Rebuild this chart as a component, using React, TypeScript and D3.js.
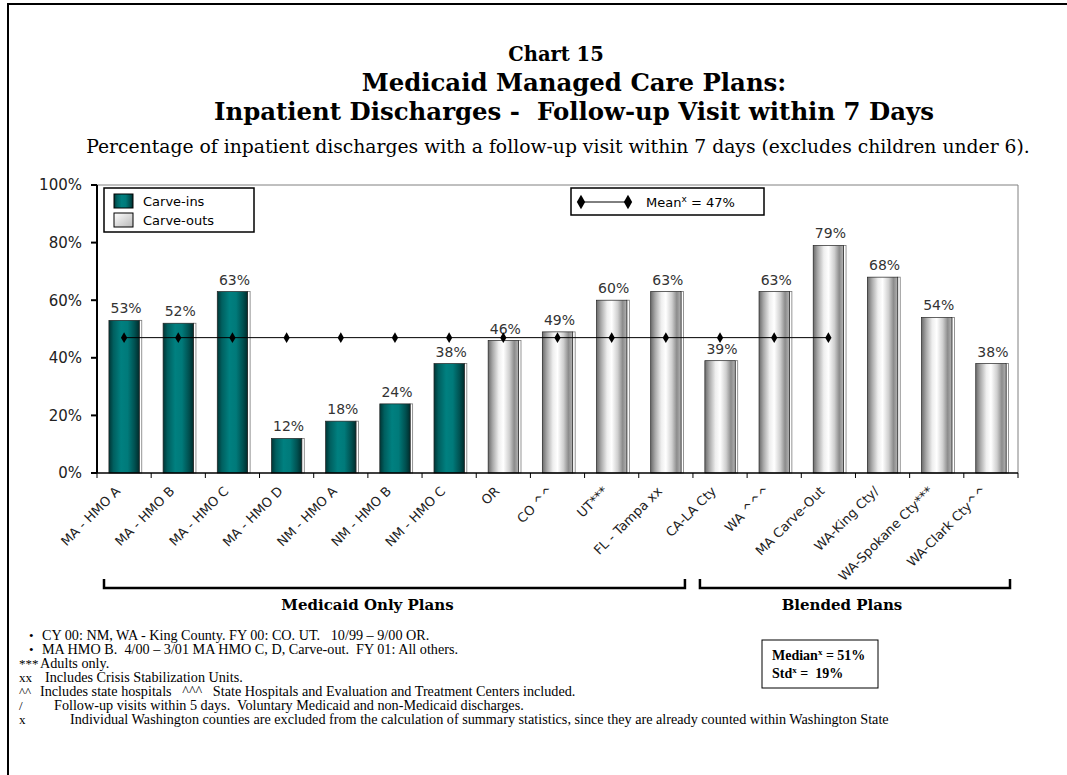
import React, { useEffect, useRef } from "react";
import * as d3 from "d3";

const categories = [
  "MA - HMO A",
  "MA - HMO B",
  "MA - HMO C",
  "MA - HMO D",
  "NM - HMO A",
  "NM - HMO B",
  "NM - HMO C",
  "OR",
  "CO ^^",
  "UT***",
  "FL - Tampa xx",
  "CA-LA Cty",
  "WA ^^^",
  "MA Carve-Out",
  "WA-King Cty/",
  "WA-Spokane Cty***",
  "WA-Clark Cty^^",
];
const values = [53, 52, 63, 12, 18, 24, 38, 46, 49, 60, 63, 39, 63, 79, 68, 54, 38];
const planType = [
  "Carve-ins", "Carve-ins", "Carve-ins", "Carve-ins", "Carve-ins", "Carve-ins", "Carve-ins",
  "Carve-outs", "Carve-outs", "Carve-outs", "Carve-outs", "Carve-outs", "Carve-outs",
  "Carve-outs", "Carve-outs", "Carve-outs", "Carve-outs",
];
const legendLabels = ["Carve-ins", "Carve-outs"];

// mean is only marked on plans that enter the summary statistics
const meanValue = 47;
const meanPlans = categories.slice(0, 14);
const medianValue = 51;
const stdValue = 19;

const yTicks = [0, 20, 40, 60, 80, 100];

const groupLabels = ["Medicaid Only Plans", "Blended Plans"];
const groupFirst = ["MA - HMO A", "CA-LA Cty"];
const groupLast = ["FL - Tampa xx", "WA-Clark Cty^^"];

const footMarks = ["•", "•", "***", "xx", "^^", "/", "x"];
const footTexts = [
  "CY 00: NM, WA - King County. FY 00: CO. UT.   10/99 – 9/00 OR.",
  "MA HMO B.  4/00 – 3/01 MA HMO C, D, Carve-out.  FY 01: All others.",
  "Adults only.",
  "Includes Crisis Stabilization Units.",
  "Includes state hospitals   ^^^   State Hospitals and Evaluation and Treatment Centers included.",
  "Follow-up visits within 5 days.  Voluntary Medicaid and non-Medicaid discharges.",
  "Individual Washington counties are excluded from the calculation of summary statistics, since they are already counted within Washington State",
];

const W = 1067;
const H = 775;

const Chart: React.FC = () => {
  const ref = useRef<SVGSVGElement | null>(null);

  useEffect(() => {
    const root = d3.select(ref.current);
    root.selectAll("*").remove();
    const svg = root.attr("width", W).attr("height", H);

    const left = 97;
    const right = 1018;
    const top = 185;
    const bottom = 473;

    const sans = "DejaVu Sans, Verdana, sans-serif";
    const serif = "DejaVu Serif, serif";
    const times = "Liberation Serif, Times New Roman, serif";

    // gradients for the cylinder-like bars
    const defs = svg.append("defs");
    const teal = defs.append("linearGradient").attr("id", "teal");
    [
      [0, "#003535"],
      [0.15, "#005f5f"],
      [0.4, "#008080"],
      [0.62, "#007a7a"],
      [0.85, "#005050"],
      [1, "#002d2d"],
    ].forEach(([o, c]) => teal.append("stop").attr("offset", o as number).attr("stop-color", c as string));
    const grey = defs.append("linearGradient").attr("id", "grey");
    [
      [0, "#6a6a6a"],
      [0.15, "#a9a9a9"],
      [0.35, "#eeeeee"],
      [0.5, "#ffffff"],
      [0.7, "#cfcfcf"],
      [0.86, "#8c8c8c"],
      [1, "#b4b4b4"],
    ].forEach(([o, c]) => grey.append("stop").attr("offset", o as number).attr("stop-color", c as string));
    const greyLeg = defs
      .append("linearGradient")
      .attr("id", "greyLeg")
      .attr("x1", 0)
      .attr("y1", 0)
      .attr("x2", 1)
      .attr("y2", 1);
    greyLeg.append("stop").attr("offset", 0).attr("stop-color", "#ffffff");
    greyLeg.append("stop").attr("offset", 1).attr("stop-color", "#b8b8b8");

    // outer frame (only left and top edges are on the page)
    svg
      .append("path")
      .attr("d", `M8,${H + 20}V4H${W + 20}`)
      .attr("fill", "none")
      .attr("stroke", "#000")
      .attr("stroke-width", 2);

    // titles
    const titles: [string, number, number, number, string][] = [
      ["Chart 15", 556, 61, 19.5, "bold"],
      ["Medicaid Managed Care Plans:", 574, 91, 24.4, "bold"],
      ["Inpatient Discharges -  Follow-up Visit within 7 Days", 574, 120, 24.4, "bold"],
      [
        "Percentage of inpatient discharges with a follow-up visit within 7 days (excludes children under 6).",
        558,
        153,
        18.75,
        "normal",
      ],
    ];
    titles.forEach(([t, x, y, fs, fw]) => {
      svg
        .append("text")
        .attr("x", x)
        .attr("y", y)
        .attr("text-anchor", "middle")
        .attr("xml:space", "preserve")
        .style("white-space", "pre")
        .style("font-family", serif)
        .style("font-size", `${fs}px`)
        .style("font-weight", fw)
        .text(t);
    });

    const x = d3
      .scaleBand<string>()
      .domain(categories)
      .range([left, right])
      .paddingInner(0.44)
      .paddingOuter(0.22);
    const y = d3.scaleLinear().domain([0, 100]).range([bottom, top]);
    const step = x.step();
    const edge = (i: number) => left + i * step;
    const cx = (c: string) => (x(c) ?? 0) + x.bandwidth() / 2;

    // plot area border
    svg
      .append("path")
      .attr("d", `M${left},${top}H${right}V${bottom}`)
      .attr("fill", "none")
      .attr("stroke", "#808080")
      .attr("stroke-width", 1);

    // bars
    const bw = x.bandwidth();
    categories.forEach((c, i) => {
      const bx = x(c) ?? 0;
      const by = y(values[i]);
      svg
        .append("rect")
        .attr("x", bx + bw)
        .attr("y", by)
        .attr("width", 2.5)
        .attr("height", bottom - by)
        .attr("fill", "#fff")
        .attr("stroke", "#7a7a7a")
        .attr("stroke-width", 0.8);
      svg
        .append("rect")
        .attr("x", bx)
        .attr("y", by)
        .attr("width", bw)
        .attr("height", bottom - by)
        .attr("fill", planType[i] === "Carve-ins" ? "url(#teal)" : "url(#grey)")
        .attr("stroke", "#222")
        .attr("stroke-width", 0.7);
      svg
        .append("text")
        .attr("x", bx + bw / 2 + 2)
        .attr("y", by - 7)
        .attr("text-anchor", "middle")
        .style("font-family", sans)
        .style("font-size", "14px")
        .style("fill", "#333")
        .text(`${values[i]}%`);
    });

    // mean line with diamonds
    const diamond = d3.symbol().type(d3.symbolDiamond).size(34);
    const my = y(meanValue);
    svg
      .append("line")
      .attr("x1", cx(meanPlans[0]))
      .attr("x2", cx(meanPlans[meanPlans.length - 1]))
      .attr("y1", my)
      .attr("y2", my)
      .attr("stroke", "#000")
      .attr("stroke-width", 1);
    meanPlans.forEach((c) => {
      svg
        .append("path")
        .attr("d", diamond()!)
        .attr("transform", `translate(${cx(c)},${my})`)
        .attr("fill", "#000");
    });

    // y axis
    svg
      .append("line")
      .attr("x1", left)
      .attr("x2", left)
      .attr("y1", top)
      .attr("y2", bottom)
      .attr("stroke", "#000")
      .attr("stroke-width", 2);
    yTicks.forEach((t) => {
      svg
        .append("line")
        .attr("x1", left - 6)
        .attr("x2", left)
        .attr("y1", y(t))
        .attr("y2", y(t))
        .attr("stroke", "#000")
        .attr("stroke-width", 2);
      svg
        .append("text")
        .attr("x", left - 15)
        .attr("y", y(t))
        .attr("dy", "0.36em")
        .attr("text-anchor", "end")
        .style("font-family", sans)
        .style("font-size", "15px")
        .style("fill", "#222")
        .text(`${t}%`);
    });

    // x axis
    svg
      .append("line")
      .attr("x1", left)
      .attr("x2", right)
      .attr("y1", bottom)
      .attr("y2", bottom)
      .attr("stroke", "#000")
      .attr("stroke-width", 1.5);
    d3.range(categories.length + 1).forEach((i) => {
      svg
        .append("line")
        .attr("x1", edge(i))
        .attr("x2", edge(i))
        .attr("y1", bottom)
        .attr("y2", bottom + 5)
        .attr("stroke", "#000")
        .attr("stroke-width", 1);
    });
    categories.forEach((c) => {
      svg
        .append("text")
        .attr("transform", `translate(${cx(c) - 3},${bottom + 19}) rotate(-45)`)
        .attr("text-anchor", "end")
        .style("font-family", sans)
        .style("font-size", "13px")
        .style("fill", "#222")
        .text(c);
    });

    // group brackets
    groupLabels.forEach((g, i) => {
      const x0 = edge(categories.indexOf(groupFirst[i])) + 7;
      const x1 = edge(categories.indexOf(groupLast[i]) + 1) - 8;
      const by = 588;
      svg
        .append("path")
        .attr("d", `M${x0},${by - 9}V${by}H${x1}V${by - 9}`)
        .attr("fill", "none")
        .attr("stroke", "#000")
        .attr("stroke-width", 2.5);
      svg
        .append("text")
        .attr("x", (x0 + x1) / 2 - (i === 0 ? 27 : 13))
        .attr("y", 610)
        .attr("text-anchor", "middle")
        .style("font-family", serif)
        .style("font-size", "15px")
        .style("font-weight", "bold")
        .text(g);
    });

    // legend: plan types
    const lg = svg.append("g");
    lg.append("rect")
      .attr("x", 104)
      .attr("y", 188)
      .attr("width", 150)
      .attr("height", 44)
      .attr("fill", "#fff")
      .attr("stroke", "#000")
      .attr("stroke-width", 1.5);
    legendLabels.forEach((l, i) => {
      lg.append("rect")
        .attr("x", 114)
        .attr("y", 194 + i * 19)
        .attr("width", 19)
        .attr("height", 14)
        .attr("fill", l === "Carve-ins" ? "url(#teal)" : "url(#greyLeg)")
        .attr("stroke", "#000")
        .attr("stroke-width", 1);
      lg.append("text")
        .attr("x", 143)
        .attr("y", 206 + i * 19)
        .style("font-family", sans)
        .style("font-size", "13px")
        .text(l);
    });

    // legend: mean
    const ml = svg.append("g");
    ml.append("rect")
      .attr("x", 571)
      .attr("y", 188)
      .attr("width", 193)
      .attr("height", 27)
      .attr("fill", "#fff")
      .attr("stroke", "#000")
      .attr("stroke-width", 1.5);
    ml.append("line")
      .attr("x1", 581)
      .attr("x2", 628)
      .attr("y1", 202)
      .attr("y2", 202)
      .attr("stroke", "#000")
      .attr("stroke-width", 1);
    [581, 628].forEach((px) => {
      ml.append("path")
        .attr("d", d3.symbol().type(d3.symbolDiamond).size(60)()!)
        .attr("transform", `translate(${px},202)`)
        .attr("fill", "#000");
    });
    const mt = ml
      .append("text")
      .attr("x", 646)
      .attr("y", 207)
      .style("font-family", sans)
      .style("font-size", "13px");
    mt.append("tspan").text("Mean");
    mt.append("tspan").attr("dy", -5).style("font-size", "9px").text("x");
    mt.append("tspan").attr("dy", 5).text(` = ${meanValue}%`);

    // summary box
    svg
      .append("rect")
      .attr("x", 762)
      .attr("y", 640)
      .attr("width", 116)
      .attr("height", 48)
      .attr("fill", "#fff")
      .attr("stroke", "#000")
      .attr("stroke-width", 1);
    [
      ["Median", ` = ${medianValue}%`],
      ["Std", ` =  ${stdValue}%`],
    ].forEach(([a, b], i) => {
      const t = svg
        .append("text")
        .attr("x", 772)
        .attr("y", 660 + i * 18)
        .attr("xml:space", "preserve")
        .style("white-space", "pre")
        .style("font-family", times)
        .style("font-size", "14px")
        .style("font-weight", "bold");
      t.append("tspan").text(a);
      t.append("tspan").attr("dy", -5).style("font-size", "9px").text("x");
      t.append("tspan").attr("dy", 5).text(b);
    });

    // footnotes
    footTexts.forEach((f, i) => {
      const fy = 640 + i * 14;
      const bullet = footMarks[i] === "•";
      svg
        .append("text")
        .attr("x", bullet ? 29 : 19)
        .attr("y", fy)
        .style("font-family", times)
        .style("font-size", "13px")
        .text(footMarks[i]);
      const tx = [42, 42, 40, 45, 40, 54, 70][i];
      svg
        .append("text")
        .attr("x", tx)
        .attr("y", fy)
        .attr("xml:space", "preserve")
        .style("white-space", "pre")
        .style("font-family", times)
        .style("font-size", "14.2px")
        .text(f);
    });
  }, []);

  return <svg ref={ref} style={{ position: "absolute", left: 0, top: 0 }}></svg>;
};

export default function App() {
  return <Chart />;
}
